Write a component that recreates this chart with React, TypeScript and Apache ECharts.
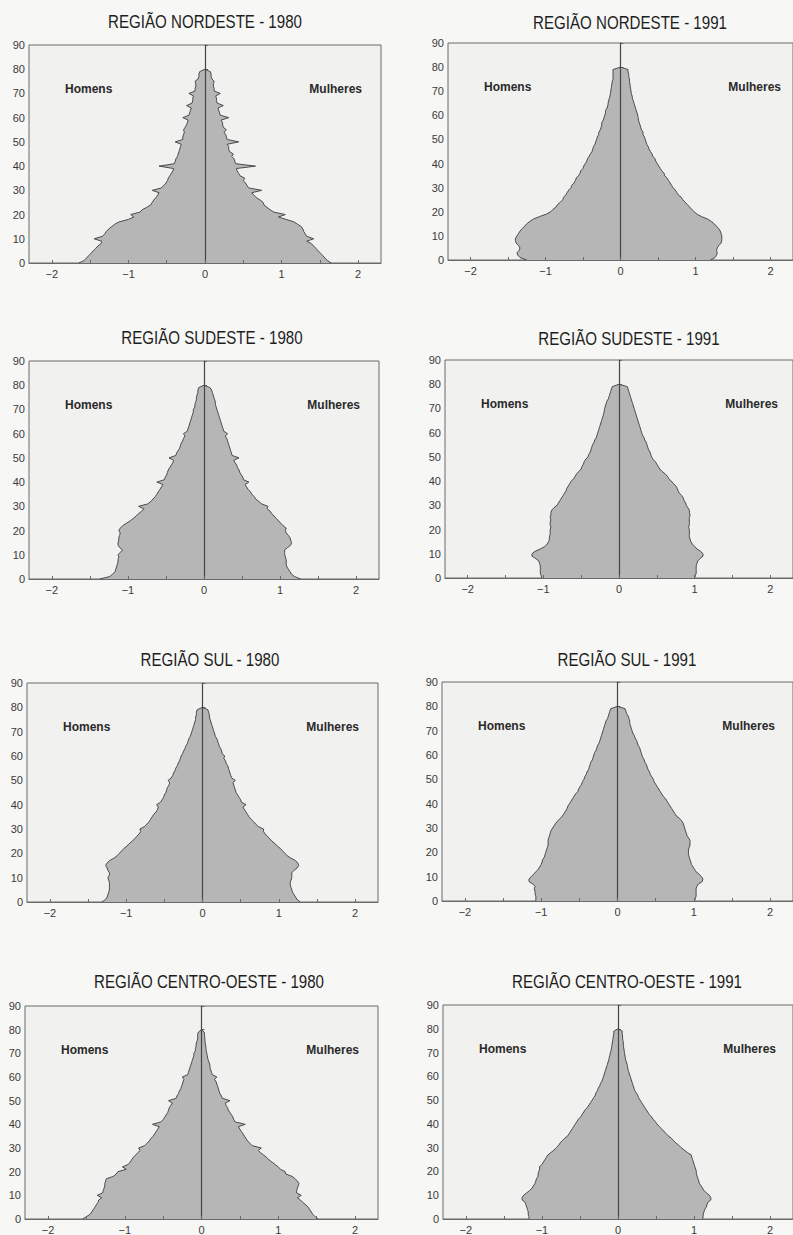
import React, { useEffect, useRef } from "react";
import * as echarts from "echarts";

// Age categories (single years) and axis tick values
const ageCategories: string[] = Array.from({ length: 91 }, (_, i) => String(i));
const xTickValues = [-2, -1.5, -1, -0.5, 0, 0.5, 1, 1.5, 2];
const xLabelValues = [-2, -1, 0, 1, 2];

const titles = [
  "REGIÃO NORDESTE - 1980",
  "REGIÃO NORDESTE - 1991",
  "REGIÃO SUDESTE - 1980",
  "REGIÃO SUDESTE - 1991",
  "REGIÃO SUL - 1980",
  "REGIÃO SUL - 1991",
  "REGIÃO CENTRO-OESTE - 1980",
  "REGIÃO CENTRO-OESTE - 1991",
];

// Percent of population by single year of age (0..79); men, women
const ne80m = [1.65,1.58,1.55,1.52,1.49,1.46,1.43,1.40,1.36,1.35,1.45,1.34,1.31,1.29,1.26,1.22,1.18,1.12,1.00,0.93,0.97,0.85,0.82,0.76,0.71,0.69,0.67,0.64,0.62,0.60,0.69,0.57,0.54,0.51,0.49,0.48,0.46,0.44,0.42,0.41,0.60,0.40,0.39,0.38,0.36,0.35,0.34,0.33,0.32,0.31,0.39,0.29,0.29,0.28,0.27,0.28,0.26,0.24,0.23,0.22,0.29,0.21,0.20,0.19,0.18,0.24,0.17,0.16,0.16,0.15,0.21,0.13,0.13,0.12,0.12,0.13,0.09,0.08,0.08,0.07];
const ne80f = [1.65,1.60,1.57,1.54,1.51,1.48,1.45,1.42,1.39,1.33,1.42,1.33,1.31,1.29,1.28,1.26,1.21,1.16,1.06,0.96,1.05,0.90,0.85,0.81,0.77,0.76,0.72,0.67,0.64,0.61,0.74,0.57,0.55,0.53,0.50,0.52,0.46,0.44,0.42,0.41,0.66,0.40,0.39,0.38,0.35,0.37,0.32,0.31,0.31,0.29,0.44,0.29,0.28,0.27,0.25,0.28,0.24,0.23,0.23,0.21,0.31,0.20,0.19,0.18,0.17,0.24,0.16,0.15,0.15,0.14,0.20,0.12,0.12,0.11,0.11,0.12,0.09,0.08,0.08,0.07];
const ne91m = [1.25,1.34,1.37,1.38,1.35,1.34,1.36,1.39,1.40,1.40,1.38,1.36,1.34,1.31,1.28,1.25,1.21,1.16,1.08,0.99,0.93,0.90,0.86,0.84,0.80,0.77,0.76,0.73,0.71,0.69,0.66,0.65,0.62,0.60,0.59,0.56,0.54,0.53,0.50,0.49,0.47,0.45,0.44,0.42,0.40,0.38,0.37,0.36,0.34,0.33,0.32,0.31,0.29,0.29,0.27,0.26,0.25,0.25,0.23,0.22,0.21,0.20,0.20,0.18,0.17,0.165,0.16,0.15,0.14,0.135,0.13,0.125,0.12,0.115,0.11,0.10,0.10,0.10,0.10,0.10];
const ne91f = [1.20,1.26,1.28,1.29,1.28,1.29,1.31,1.34,1.35,1.35,1.35,1.34,1.33,1.31,1.28,1.25,1.21,1.16,1.08,1.02,0.98,0.95,0.92,0.89,0.86,0.83,0.81,0.77,0.75,0.73,0.70,0.68,0.66,0.64,0.62,0.59,0.58,0.55,0.53,0.51,0.49,0.47,0.46,0.43,0.42,0.40,0.38,0.37,0.35,0.34,0.33,0.32,0.30,0.30,0.28,0.27,0.26,0.25,0.24,0.235,0.23,0.22,0.21,0.20,0.19,0.18,0.17,0.16,0.155,0.145,0.14,0.135,0.13,0.125,0.12,0.12,0.11,0.11,0.10,0.10];
const se80m = [1.37,1.24,1.20,1.17,1.16,1.15,1.14,1.13,1.13,1.12,1.13,1.10,1.07,1.11,1.13,1.13,1.12,1.12,1.11,1.10,1.12,1.10,1.07,1.02,0.97,0.93,0.89,0.86,0.82,0.79,0.86,0.74,0.70,0.67,0.64,0.62,0.60,0.58,0.56,0.54,0.62,0.52,0.51,0.49,0.48,0.47,0.45,0.43,0.41,0.40,0.46,0.37,0.36,0.34,0.32,0.31,0.30,0.28,0.27,0.25,0.27,0.22,0.21,0.20,0.19,0.18,0.17,0.16,0.15,0.14,0.14,0.12,0.12,0.11,0.10,0.10,0.09,0.08,0.08,0.07];
const se80f = [1.27,1.19,1.15,1.13,1.11,1.09,1.08,1.08,1.08,1.07,1.06,1.06,1.06,1.10,1.14,1.15,1.14,1.13,1.11,1.08,1.07,1.08,1.04,1.01,0.98,0.95,0.92,0.89,0.87,0.83,0.84,0.76,0.72,0.68,0.66,0.63,0.61,0.58,0.56,0.54,0.59,0.52,0.51,0.49,0.47,0.46,0.44,0.43,0.41,0.39,0.46,0.37,0.36,0.35,0.34,0.33,0.32,0.31,0.30,0.28,0.31,0.26,0.25,0.24,0.23,0.22,0.21,0.20,0.19,0.18,0.17,0.16,0.15,0.15,0.14,0.13,0.12,0.11,0.10,0.08];
const se91m = [1.02,1.03,1.04,1.04,1.04,1.04,1.05,1.06,1.10,1.15,1.15,1.11,1.04,0.98,0.95,0.93,0.92,0.92,0.91,0.91,0.91,0.90,0.91,0.91,0.90,0.91,0.90,0.90,0.89,0.86,0.82,0.80,0.78,0.76,0.74,0.72,0.70,0.69,0.67,0.65,0.63,0.60,0.58,0.56,0.53,0.50,0.49,0.47,0.46,0.44,0.41,0.40,0.38,0.37,0.36,0.35,0.33,0.32,0.30,0.29,0.28,0.27,0.26,0.25,0.24,0.23,0.22,0.21,0.20,0.195,0.19,0.18,0.17,0.16,0.14,0.13,0.12,0.11,0.10,0.09];
const se91f = [1.00,1.01,1.02,1.02,1.02,1.02,1.03,1.04,1.07,1.11,1.11,1.08,1.03,1.00,0.97,0.95,0.94,0.93,0.93,0.93,0.93,0.92,0.93,0.93,0.93,0.93,0.94,0.93,0.93,0.91,0.89,0.88,0.86,0.85,0.83,0.80,0.78,0.77,0.75,0.72,0.69,0.66,0.64,0.61,0.57,0.54,0.52,0.50,0.48,0.45,0.43,0.42,0.41,0.39,0.38,0.37,0.36,0.34,0.33,0.31,0.30,0.29,0.28,0.27,0.26,0.25,0.24,0.23,0.22,0.21,0.20,0.19,0.18,0.17,0.16,0.15,0.14,0.13,0.12,0.11];
const sul80m = [1.32,1.27,1.25,1.24,1.23,1.22,1.22,1.22,1.22,1.23,1.24,1.22,1.22,1.24,1.25,1.27,1.25,1.22,1.16,1.12,1.09,1.06,1.03,0.99,0.96,0.92,0.89,0.86,0.83,0.81,0.82,0.76,0.73,0.70,0.68,0.66,0.64,0.61,0.59,0.58,0.60,0.55,0.53,0.51,0.50,0.48,0.47,0.46,0.44,0.43,0.45,0.41,0.39,0.38,0.36,0.35,0.33,0.32,0.30,0.29,0.28,0.26,0.25,0.23,0.22,0.20,0.19,0.18,0.16,0.15,0.14,0.13,0.12,0.11,0.10,0.09,0.09,0.08,0.08,0.07];
const sul80f = [1.28,1.24,1.22,1.20,1.18,1.17,1.16,1.15,1.15,1.16,1.17,1.17,1.17,1.20,1.24,1.26,1.25,1.22,1.16,1.11,1.08,1.05,1.02,0.98,0.95,0.91,0.88,0.85,0.82,0.80,0.80,0.73,0.70,0.67,0.64,0.61,0.59,0.57,0.55,0.53,0.57,0.51,0.50,0.48,0.46,0.44,0.43,0.42,0.41,0.40,0.43,0.38,0.37,0.36,0.35,0.34,0.33,0.31,0.30,0.28,0.29,0.26,0.25,0.24,0.22,0.21,0.20,0.19,0.17,0.16,0.15,0.14,0.13,0.12,0.11,0.10,0.09,0.09,0.08,0.07];
const sul91m = [1.07,1.07,1.07,1.08,1.08,1.09,1.08,1.11,1.16,1.16,1.13,1.10,1.07,1.04,1.02,1.00,0.99,0.98,0.96,0.95,0.94,0.93,0.92,0.91,0.91,0.91,0.90,0.89,0.88,0.87,0.85,0.83,0.81,0.78,0.75,0.72,0.70,0.68,0.66,0.65,0.63,0.61,0.59,0.57,0.55,0.52,0.51,0.49,0.47,0.46,0.44,0.43,0.41,0.40,0.38,0.37,0.36,0.35,0.33,0.32,0.31,0.30,0.28,0.27,0.26,0.24,0.23,0.22,0.21,0.20,0.19,0.18,0.17,0.16,0.15,0.13,0.12,0.11,0.10,0.09];
const sul91f = [1.01,1.02,1.03,1.03,1.03,1.03,1.04,1.06,1.11,1.12,1.10,1.07,1.03,1.01,0.99,0.97,0.96,0.95,0.94,0.93,0.93,0.93,0.94,0.95,0.95,0.95,0.93,0.91,0.90,0.89,0.88,0.87,0.86,0.84,0.81,0.77,0.75,0.73,0.71,0.69,0.67,0.65,0.63,0.60,0.58,0.56,0.54,0.52,0.50,0.48,0.47,0.45,0.43,0.42,0.40,0.39,0.38,0.36,0.35,0.33,0.32,0.31,0.30,0.29,0.27,0.26,0.25,0.23,0.22,0.20,0.19,0.18,0.17,0.16,0.16,0.15,0.14,0.12,0.11,0.10];
const co80m = [1.55,1.50,1.45,1.43,1.41,1.39,1.37,1.35,1.34,1.30,1.36,1.29,1.28,1.27,1.26,1.26,1.25,1.24,1.15,1.11,1.09,0.98,1.03,0.96,0.93,0.91,0.89,0.86,0.83,0.80,0.82,0.74,0.71,0.68,0.66,0.63,0.61,0.59,0.57,0.55,0.64,0.53,0.50,0.48,0.46,0.44,0.43,0.42,0.40,0.38,0.43,0.33,0.32,0.30,0.29,0.27,0.26,0.25,0.24,0.23,0.25,0.18,0.17,0.16,0.15,0.14,0.13,0.12,0.11,0.10,0.10,0.08,0.08,0.07,0.07,0.06,0.05,0.05,0.05,0.04];
const co80f = [1.52,1.48,1.45,1.43,1.41,1.39,1.36,1.32,1.29,1.25,1.30,1.24,1.24,1.25,1.26,1.27,1.25,1.22,1.18,1.10,1.09,1.03,1.00,0.96,0.92,0.88,0.85,0.81,0.77,0.74,0.78,0.66,0.63,0.60,0.58,0.56,0.54,0.52,0.50,0.48,0.57,0.44,0.42,0.41,0.39,0.37,0.35,0.34,0.32,0.31,0.37,0.27,0.26,0.24,0.23,0.22,0.21,0.20,0.19,0.17,0.20,0.14,0.13,0.12,0.11,0.11,0.10,0.09,0.08,0.075,0.07,0.06,0.06,0.055,0.05,0.045,0.045,0.04,0.04,0.035];
const co91m = [1.17,1.17,1.18,1.18,1.19,1.20,1.21,1.22,1.26,1.26,1.24,1.20,1.16,1.13,1.11,1.09,1.08,1.07,1.05,1.05,1.04,1.03,1.03,1.00,0.98,0.96,0.94,0.92,0.88,0.84,0.81,0.78,0.76,0.73,0.70,0.66,0.64,0.62,0.60,0.58,0.56,0.54,0.52,0.49,0.47,0.45,0.43,0.40,0.38,0.36,0.34,0.32,0.30,0.29,0.27,0.26,0.24,0.23,0.21,0.20,0.19,0.18,0.17,0.16,0.15,0.14,0.13,0.12,0.115,0.105,0.10,0.09,0.085,0.08,0.075,0.07,0.065,0.06,0.055,0.055];
const co91f = [1.11,1.12,1.12,1.13,1.14,1.16,1.17,1.18,1.22,1.22,1.20,1.16,1.13,1.11,1.09,1.07,1.06,1.05,1.04,1.03,1.03,1.02,1.01,1.00,0.99,0.98,0.97,0.96,0.91,0.87,0.83,0.80,0.76,0.73,0.70,0.66,0.63,0.60,0.57,0.54,0.51,0.49,0.46,0.44,0.41,0.39,0.37,0.35,0.33,0.31,0.29,0.27,0.26,0.24,0.22,0.21,0.20,0.19,0.18,0.17,0.16,0.15,0.14,0.13,0.125,0.12,0.11,0.10,0.095,0.09,0.085,0.08,0.075,0.07,0.07,0.065,0.06,0.06,0.055,0.055];

const menSeries = [ne80m, ne91m, se80m, se91m, sul80m, sul91m, co80m, co91m];
const womenSeries = [ne80f, ne91f, se80f, se91f, sul80f, sul91f, co80f, co91f];

// Layout of each panel (pixels)
const layout = [
  { left: 29, top: 45, width: 352, height: 218, tx: 205, ty: 22 },
  { left: 448, top: 43, width: 352, height: 217, tx: 630, ty: 23 },
  { left: 29, top: 361, width: 350, height: 218, tx: 212, ty: 338 },
  { left: 445, top: 360, width: 352, height: 218, tx: 629, ty: 339 },
  { left: 27, top: 683, width: 351, height: 219, tx: 210, ty: 660 },
  { left: 442, top: 682, width: 352, height: 219, tx: 627, ty: 660 },
  { left: 25, top: 1006, width: 353, height: 217, tx: 209, ty: 982 },
  { left: 443, top: 1005, width: 352, height: 218, tx: 627, ty: 982 },
];

const SANS = "'Liberation Sans', Arial, sans-serif";

export default function App() {
  const ref = useRef<HTMLDivElement>(null);
  useEffect(() => {
    if (!ref.current) return;
    const chart = echarts.init(ref.current, null, { renderer: "svg" });
    const grids: any[] = [];
    const xAxes: any[] = [];
    const yAxes: any[] = [];
    const series: any[] = [];
    const graphics: any[] = [];
    layout.forEach((g, i) => {
      grids.push({
        left: g.left, top: g.top, width: g.width, height: g.height,
        show: true, borderColor: "#6a6a6a", borderWidth: 1,
        backgroundColor: "#f1f1ef",
      });
      xAxes.push({
        type: "value", gridIndex: i, min: -2.3, max: 2.3, z: 5,
        axisLine: { show: true, lineStyle: { color: "#6a6a6a", width: 1 } },
        axisTick: { show: true, inside: true, length: 3, customValues: xTickValues, lineStyle: { color: "#6a6a6a" } },
        axisLabel: {
          show: true, customValues: xLabelValues, margin: 5,
          fontFamily: SANS, fontSize: 11, color: "#3a3a3a",
          formatter: (v: number) => (v < 0 ? "\u2212" + Math.abs(v) : String(v)),
        },
        splitLine: { show: false },
      });
      yAxes.push({
        type: "category", gridIndex: i, data: ageCategories, boundaryGap: false,
        axisLine: { show: true, lineStyle: { color: "#6a6a6a", width: 1 } },
        axisTick: { show: true, inside: true, length: 3, interval: 9, lineStyle: { color: "#6a6a6a" } },
        axisLabel: { show: true, interval: 9, margin: 4, fontFamily: SANS, fontSize: 11, color: "#3a3a3a" },
        splitLine: { show: false },
      });
      const men = menSeries[i].map((v) => -v).concat([0]);
      const women = womenSeries[i].concat([0]);
      const common = {
        type: "line", xAxisIndex: i, yAxisIndex: i, showSymbol: false, symbol: "none",
        lineStyle: { color: "#4a4a4a", width: 1 },
        areaStyle: { color: "#b6b6b6", opacity: 1 },
        silent: true,
      };
      series.push({ ...common, name: "Homens", data: men });
      series.push({
        ...common, name: "Mulheres", data: women,
        markLine: {
          silent: true, symbol: "none", label: { show: false },
          lineStyle: { color: "#444", width: 1.2, type: "solid" },
          data: [{ xAxis: 0 }],
        },
      });
      graphics.push({
        type: "text", x: g.tx, y: g.ty, scaleX: 0.84,
        style: { text: titles[i], fontFamily: SANS, fontSize: 18, fill: "#1e1e1e", align: "center", verticalAlign: "middle" },
      });
      graphics.push({
        type: "text", x: g.left + 36, y: g.top + 44,
        style: { text: "Homens", fontFamily: SANS, fontWeight: "bold", fontSize: 12, fill: "#2a2a2a", align: "left", verticalAlign: "middle" },
      });
      graphics.push({
        type: "text", x: g.left + g.width - 19, y: g.top + 44,
        style: { text: "Mulheres", fontFamily: SANS, fontWeight: "bold", fontSize: 12, fill: "#2a2a2a", align: "right", verticalAlign: "middle" },
      });
    });
    chart.setOption({
      animation: false,
      backgroundColor: "#f7f7f5",
      grid: grids,
      xAxis: xAxes,
      yAxis: yAxes,
      series,
      graphic: graphics,
    });
    return () => chart.dispose();
  }, []);
  return (
    <div
      ref={ref}
      style={{ position: "absolute", left: 0, top: 0, width: 793, height: 1235 }}
    />
  );
}
